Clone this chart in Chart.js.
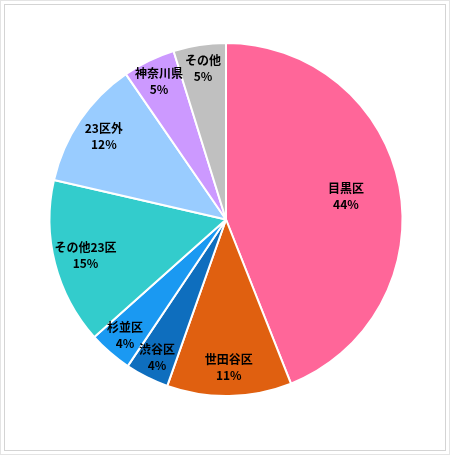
<!DOCTYPE html>
<html>
<head>
<meta charset="utf-8">
<script src="https://cdn.jsdelivr.net/npm/chart.js@4"></script>
<style>
  html, body { margin: 0; padding: 0; background: #fff; }
  #wrap { position: relative; width: 450px; height: 455px; }
  #frame1 { position: absolute; left: 0px; top: 0px; width: 448px; height: 453px; border: 1px solid #e4e4e4; }
  #frame2 { position: absolute; left: 4px; top: 4px; width: 440px; height: 445px; border: 1px solid #d4d4d4; }
  canvas { position: absolute; left: 0; top: 0; }
</style>
</head>
<body>
<div id="wrap">
  <div id="frame1"></div>
  <div id="frame2"></div>
  <canvas id="c" width="450" height="455"></canvas>
</div>
<script>
const categories = ['目黒区', '世田谷区', '渋谷区', '杉並区', 'その他23区', '23区外', '神奈川県', 'その他'];
const shares = [44, 11.4, 4, 4, 15.2, 11.8, 4.8, 4.8];
const sliceColors = ['#FF6699', '#E06010', '#0E6EBE', '#1A99F2', '#33CCCC', '#99CCFF', '#CC99FF', '#C0C0C0'];

const labelPlugin = {
  id: 'sliceLabels',
  afterDatasetsDraw(chart) {
    const ctx = chart.ctx;
    const meta = chart.getDatasetMeta(0);
    const data = chart.data.datasets[0].data;
    const total = data.reduce((a, b) => a + b, 0);
    ctx.save();
    ctx.font = 'bold 12px "Noto Sans CJK JP", sans-serif';
    ctx.fillStyle = '#000';
    ctx.textAlign = 'center';
    ctx.textBaseline = 'middle';
    meta.data.forEach((arc, i) => {
      const p = arc.getProps(['startAngle', 'endAngle', 'outerRadius', 'x', 'y'], true);
      const share = data[i] / total;
      const mid = (p.startAngle + p.endAngle) / 2;
      const frac = 0.89 - 0.45 * share;
      const r = p.outerRadius * frac;
      const x = p.x + Math.cos(mid) * r;
      const y = p.y + Math.sin(mid) * r;
      ctx.fillText(chart.data.labels[i], x, y - 8);
      ctx.fillText(Math.round(data[i]) + '%', x, y + 8);
    });
    ctx.restore();
  }
};

new Chart(document.getElementById('c'), {
  type: 'pie',
  data: {
    labels: categories,
    datasets: [{
      data: shares,
      backgroundColor: sliceColors,
      borderColor: '#ffffff',
      borderWidth: 2
    }]
  },
  options: {
    responsive: false,
    animation: false,
    layout: { padding: { left: 48, right: 46, top: 42, bottom: 58 } },
    plugins: {
      legend: { display: false },
      tooltip: { enabled: false }
    }
  },
  plugins: [labelPlugin]
});
</script>
</body>
</html>
